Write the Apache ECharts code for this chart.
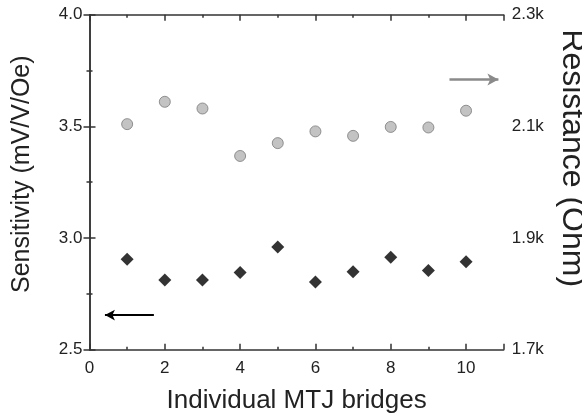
<!DOCTYPE html>
<html>
<head>
<meta charset="utf-8">
<script src="https://cdn.jsdelivr.net/npm/echarts@6/dist/echarts.min.js"></script>
<style>html,body{margin:0;padding:0;background:#fff;}#c{width:582px;height:420px;}</style>
</head>
<body>
<div id="c"></div>
<script>
var bridges = [1, 2, 3, 4, 5, 6, 7, 8, 9, 10];
var sensitivity = [2.905, 2.812, 2.812, 2.846, 2.960, 2.803, 2.849, 2.914, 2.855, 2.894];
var resistance = [2104, 2144, 2132, 2047, 2070, 2091, 2083, 2099, 2098, 2128];
var xTicks = [0, 2, 4, 6, 8, 10];
var leftTicks = [2.5, 3.0, 3.5, 4.0];
var rightTicks = [1700, 1900, 2100, 2300];
var leftArrow = [[0.41, 2.655], [1.71, 2.655]];
var rightArrow = [[9.56, 2184], [10.86, 2184]];

var FONT = '"Liberation Sans", Arial, sans-serif';
var AX = '#333';
function xAx(pos, interval, len, showLine, showLabel) {
  return {
    type: 'value', position: pos, min: 0, max: 11, interval: interval,
    axisLine: {show: showLine, lineStyle: {color: AX, width: 1.5}},
    axisTick: {show: true, inside: true, length: len, lineStyle: {color: AX, width: 1.5}},
    splitLine: {show: false},
    axisLabel: {show: showLabel, color: '#222', fontSize: 17, fontFamily: FONT, margin: 10,
      formatter: function (v) { return xTicks.indexOf(v) >= 0 ? String(v) : ''; }}
  };
}
var xAxes = [xAx('bottom', 1, 3, true, true), xAx('bottom', 2, 6, false, false),
             xAx('top', 1, 3, true, false), xAx('top', 2, 6, false, false)];
xAxes[0].name = 'Individual MTJ bridges';
xAxes[0].nameLocation = 'middle';
xAxes[0].nameGap = 38;
xAxes[0].nameTextStyle = {fontSize: 26, fontFamily: FONT, color: '#222'};

var option = {
  animation: false,
  backgroundColor: '#fff',
  grid: {left: 89.5, right: 78.3, top: 14.7, bottom: 70.3, containLabel: false, outerBoundsMode: 'none'},
  xAxis: xAxes,
  yAxis: [{
    type: 'value', position: 'left', min: 2.5, max: 4.0, interval: 0.5,
    name: 'Sensitivity (mV/V/Oe)', nameLocation: 'middle', nameGap: 55,
    nameTextStyle: {fontSize: 25, fontFamily: FONT, color: '#222', padding: [0, 0, 0, 16]},
    axisLine: {show: true, lineStyle: {color: AX, width: 1.5}},
    axisTick: {show: true, inside: true, length: 6, lineStyle: {color: AX, width: 1.5}},
    minorTick: {show: true, splitNumber: 2, length: 3, lineStyle: {color: AX, width: 1.5}},
    splitLine: {show: false}, minorSplitLine: {show: false},
    axisLabel: {color: '#222', fontSize: 17, fontFamily: FONT, margin: 7,
      formatter: function (v) { return v.toFixed(1); }}
  }, {
    type: 'value', position: 'right', min: 1700, max: 2300, interval: 200,
    name: 'Resistance (Ohm)', nameLocation: 'middle', nameGap: 52, nameRotate: -90,
    nameTextStyle: {fontSize: 32, fontFamily: FONT, color: '#222', padding: [0, 48, 0, 0]},
    axisLine: {show: true, lineStyle: {color: AX, width: 1.5}},
    axisTick: {show: true, inside: true, length: 6, lineStyle: {color: AX, width: 1.5}},
    minorTick: {show: true, splitNumber: 2, length: 3, lineStyle: {color: AX, width: 1.5}},
    splitLine: {show: false}, minorSplitLine: {show: false},
    axisLabel: {color: '#222', fontSize: 17, fontFamily: FONT, margin: 8,
      formatter: function (v) { return (v / 1000).toFixed(1) + 'k'; }}
  }],
  series: [{
    name: 'Resistance', type: 'scatter', xAxisIndex: 0, yAxisIndex: 1,
    data: bridges.map(function (b, i) { return [b, resistance[i]]; }),
    symbol: 'circle', symbolSize: 11,
    itemStyle: {color: '#b4b4b4', borderColor: '#7a7a7a', borderWidth: 1},
    markLine: {
      silent: true, symbol: ['none', 'arrow'], symbolSize: [9, 11],
      label: {show: false},
      lineStyle: {color: '#8a8a8a', width: 2.5, type: 'solid'},
      data: [[{coord: rightArrow[0]}, {coord: rightArrow[1]}]]
    }
  }, {
    name: 'Sensitivity', type: 'scatter', xAxisIndex: 0, yAxisIndex: 0,
    data: bridges.map(function (b, i) { return [b, sensitivity[i]]; }),
    symbol: 'diamond', symbolSize: 13,
    itemStyle: {color: '#000'},
    markLine: {
      silent: true, symbol: ['arrow', 'none'], symbolSize: [8, 10],
      label: {show: false},
      lineStyle: {color: '#000', width: 2, type: 'solid'},
      data: [[{coord: leftArrow[0]}, {coord: leftArrow[1]}]]
    }
  }]
};
var chart = echarts.init(document.getElementById('c'), null, {renderer: 'canvas'});
chart.setOption(option);
</script>
</body>
</html>
